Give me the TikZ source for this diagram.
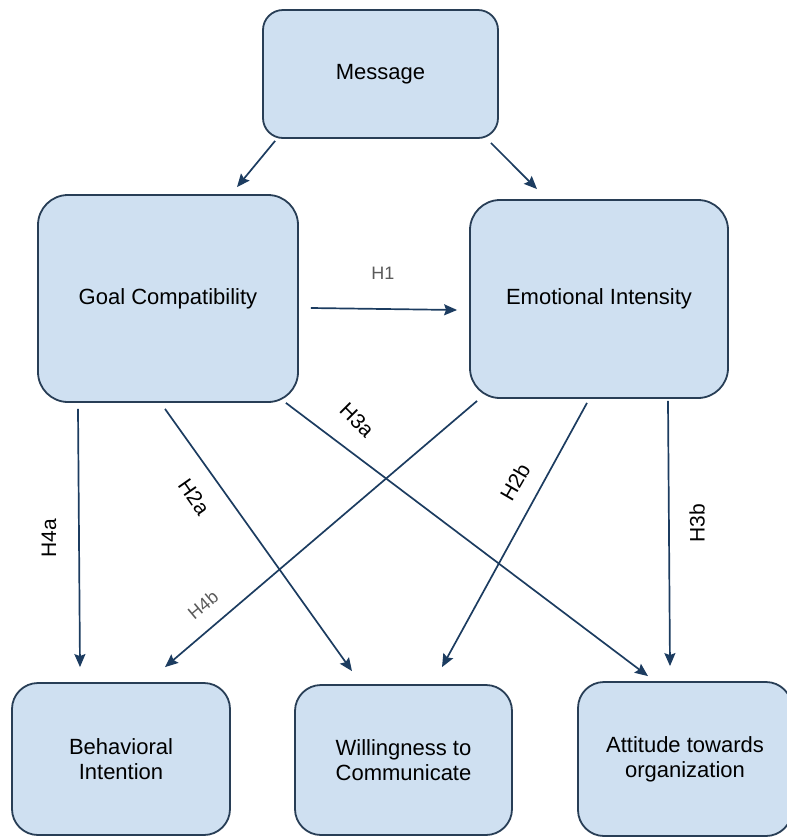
\documentclass[tikz,border=0pt]{standalone}
\usepackage{fontspec}
\setmainfont{Liberation Sans}
\usetikzlibrary{arrows.meta}
\definecolor{boxfill}{RGB}{207,224,241}
\definecolor{boxline}{RGB}{40,62,86}
\definecolor{arrcol}{RGB}{28,60,96}
\definecolor{lblgray}{RGB}{90,90,90}
\tikzset{
  box/.style={draw=boxline, fill=boxfill, line width=1.8pt, rounded corners=26pt, align=center,
    font=\fontsize{22}{25}\selectfont, inner sep=0pt},
  arr/.style={draw=arrcol, line width=1.7pt, -{Stealth[length=13pt,width=11pt,inset=2pt]}},
  lbl/.style={font=\fontsize{21}{22}\selectfont, inner sep=0pt},
  glbl/.style={font=\fontsize{18}{20}\selectfont, text=lblgray, inner sep=0pt}
}
\begin{document}
\begin{tikzpicture}[x=1pt,y=-1pt]
\useasboundingbox (0,0) rectangle (787,839);
\begin{scope}
\clip (0,0) rectangle (787,839);
\node[box, rounded corners=20pt, minimum width=235pt, minimum height=128pt] (msg) at (380.5,74) {Message};
\node[box, rounded corners=30pt, minimum width=260pt, minimum height=207pt] (goal) at (168,298.5) {Goal Compatibility};
\node[box, rounded corners=30pt, minimum width=258pt, minimum height=198pt] (emo) at (599,299) {Emotional Intensity};
\node[box, minimum width=218pt, minimum height=152pt] (beh) at (121,759) {Behavioral\\Intention};
\node[box, minimum width=217pt, minimum height=150pt] (will) at (403.5,760) {Willingness to\\Communicate};
\node[box, minimum width=214pt, minimum height=154pt] (att) at (685,759) {Attitude towards\\organization};
\end{scope}

\draw[arr] ([xshift=13pt,yshift=-2pt]msg.south west) -- ([xshift=69pt,yshift=7pt]goal.north);
\draw[arr] ([xshift=-8pt,yshift=-4pt]msg.south east) -- ([xshift=-62pt,yshift=10pt]emo.north);
\draw[arr] ([xshift=12pt,yshift=-9.5pt]goal.east) -- ([xshift=-12pt,yshift=-11pt]emo.west);
\draw[arr] ([xshift=-90pt,yshift=-6pt]goal.south) -- ([xshift=-41pt,yshift=15pt]beh.north);
\draw[arr] ([xshift=-3pt,yshift=-6pt]goal.south) -- ([xshift=-51.5pt,yshift=13pt]will.north);
\draw[arr] ([xshift=-13pt,yshift=0pt]goal.south east) -- ([xshift=-37pt,yshift=5pt]att.north);
\draw[arr] ([xshift=8pt,yshift=-2pt]emo.south west) -- ([xshift=44pt,yshift=15pt]beh.north);
\draw[arr] ([xshift=-12pt,yshift=-4pt]emo.south) -- ([xshift=38.5pt,yshift=17pt]will.north);
\draw[arr] ([xshift=69pt,yshift=-2pt]emo.south) -- ([xshift=-15pt,yshift=15pt]att.north);

\node[glbl] (h1) at (383,273) {H1};
\node[lbl, rotate=90] (h4a) at (49,538) {H4a};
\node[lbl, rotate=-55] (h2a) at (194,497) {H2a};
\node[lbl, rotate=-45] (h3a) at (357,420) {H3a};
\node[lbl, rotate=60] (h2b) at (515,482) {H2b};
\node[lbl, rotate=90] (h3b) at (697,523) {H3b};
\node[glbl, rotate=40] (h4b) at (203,605) {H4b};
\end{tikzpicture}
\end{document}
